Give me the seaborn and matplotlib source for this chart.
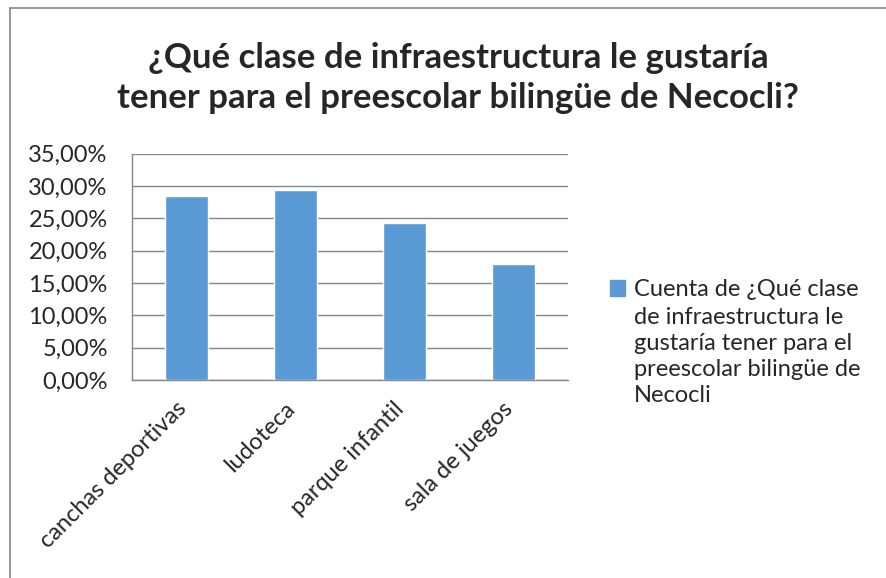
import numpy as np
import pandas as pd
import matplotlib.pyplot as plt
import seaborn as sns
from matplotlib.lines import Line2D
from matplotlib.patches import Patch
from matplotlib.ticker import FuncFormatter
from matplotlib.transforms import ScaledTranslation

# Data
categorias = ["canchas deportivas", "ludoteca", "parque infantil", "sala de juegos"]
porcentajes = [0.284, 0.294, 0.243, 0.179]
titulo = "¿Qué clase de infraestructura le gustaría\ntener para el preescolar bilingüe de Necocli?"
leyenda_1 = "Cuenta de ¿Qué clase"
leyenda_resto = "de infraestructura le\ngustaría tener para el\npreescolar bilingüe de\nNecocli"

df = pd.DataFrame({"categoria": categorias, "porcentaje": porcentajes})

sns.set_style("white")
plt.rcParams["font.family"] = ["Lato", "DejaVu Sans"]

W, H = 886, 578
fig = plt.figure(figsize=(W / 100, H / 100), dpi=100)
ax = fig.add_axes([132 / W, 1 - 380 / H, (568 - 132) / W, (380 - 153.7) / H])

barra = "#5B9BD5"
gris = "#868686"

sns.barplot(data=df, x="categoria", y="porcentaje", color=barra, width=0.4,
            saturation=1, ax=ax, zorder=3)

ax.set_ylim(0, 0.35)
ax.set_xlim(-0.5, 3.5)
ax.set_yticks(np.arange(0, 0.351, 0.05))
ax.yaxis.set_major_formatter(FuncFormatter(lambda v, p: f"{v*100:.2f}%".replace(".", ",")))
ax.grid(axis="y", color=gris, linewidth=1, zorder=0)
ax.set_xlabel("")
ax.set_ylabel("")

for s in ["top", "right"]:
    ax.spines[s].set_visible(False)
for s in ["left", "bottom"]:
    ax.spines[s].set_color(gris)
    ax.spines[s].set_linewidth(1)

# category boundary ticks on x
ax.set_xticks([-0.5, 0.5, 1.5, 2.5, 3.5], minor=True)
ax.tick_params(axis="x", which="minor", length=6, color=gris, width=1, direction="out")
ax.tick_params(axis="x", which="major", length=0, pad=13)
ax.tick_params(axis="y", length=7.5, color=gris, width=1, direction="out", pad=10)
ax.set_xticks(range(len(categorias)))
ax.set_xticklabels(categorias, rotation=45, ha="right", rotation_mode="anchor", fontsize=17)
desplazar = ScaledTranslation(-0.11, 0, fig.dpi_scale_trans)
for t in ax.get_xticklabels():
    t.set_transform(t.get_transform() + desplazar)
for t in ax.get_yticklabels():
    t.set_fontsize(17)

fig.text(458 / W, 1 - 78 / H, titulo, ha="center", va="center", fontsize=25,
         fontweight="bold", linespacing=1.3)

leg = fig.legend(handles=[Patch(facecolor=barra, edgecolor=barra)], labels=[leyenda_1],
                 loc="center left", bbox_to_anchor=(610 / W, 1 - 290 / H), frameon=False,
                 fontsize=17, handlelength=0.65, handleheight=0.65, handletextpad=0.35,
                 borderpad=0, borderaxespad=0)

# rest of the wrapped legend label, aligned under the first line
fig.canvas.draw()
bb = leg.get_texts()[0].get_window_extent()
fig.text(bb.x0 / W, (bb.y0 - 6) / H, leyenda_resto, ha="left", va="top",
         fontsize=17, linespacing=1.3)

# outer chart border (only left and top visible)
fig.add_artist(Line2D([10 / W, 10 / W], [0, 1 - 8 / H], color=gris, linewidth=1.2))
fig.add_artist(Line2D([10 / W, 1], [1 - 8 / H, 1 - 8 / H], color=gris, linewidth=1.2))

fig.savefig("out.png", dpi=100, facecolor="white")
